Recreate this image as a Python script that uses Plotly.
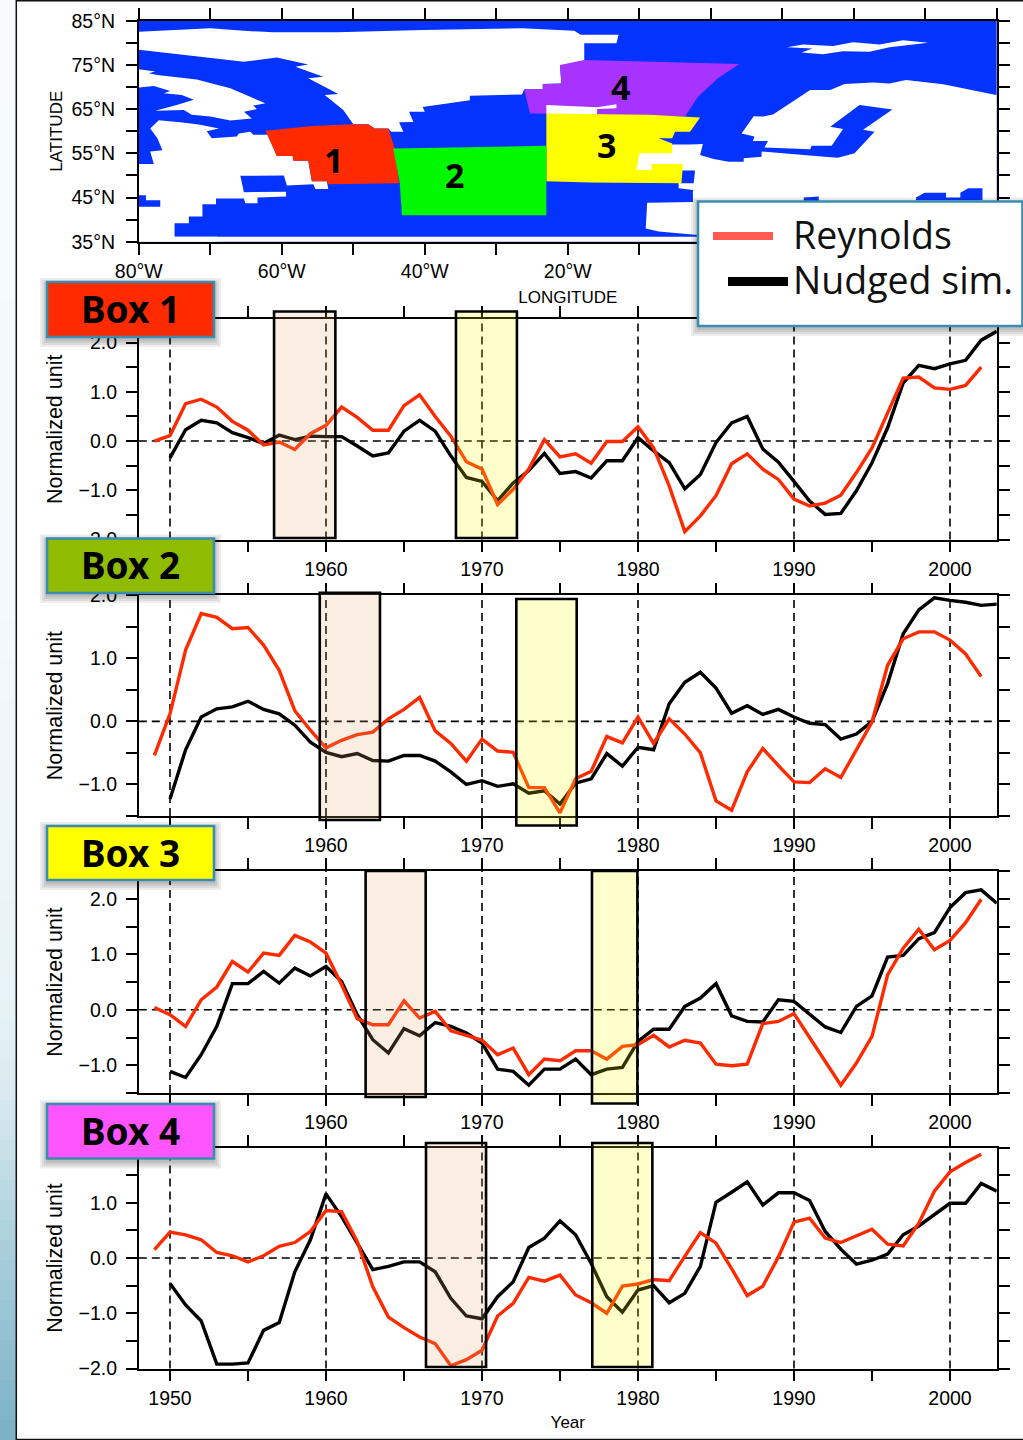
import plotly.graph_objects as go

W, H = 1023, 1440

# ---------- time series data (normalized units) ----------
YEARS_REY = list(range(1949, 2003))
YEARS_NUD = list(range(1950, 2004))

BOX1_REY = [0.0,0.11,0.76,0.85,0.69,0.4,0.22,-0.08,-0.02,-0.17,0.15,0.32,0.69,0.48,0.22,0.22,0.72,0.94,0.5,0.1,-0.42,-0.57,-1.29,-0.98,-0.57,0.03,-0.32,-0.26,-0.45,-0.01,-0.01,0.29,-0.14,-0.91,-1.84,-1.52,-1.11,-0.46,-0.26,-0.57,-0.78,-1.18,-1.32,-1.26,-1.1,-0.64,-0.14,0.57,1.28,1.3,1.08,1.05,1.13,1.5]
BOX1_NUD = [-0.34,0.23,0.42,0.37,0.17,0.07,-0.05,0.12,0.03,0.1,0.09,0.09,-0.1,-0.3,-0.24,0.2,0.42,0.2,-0.3,-0.74,-0.82,-1.21,-0.85,-0.6,-0.25,-0.66,-0.62,-0.75,-0.4,-0.4,0.07,-0.2,-0.44,-0.97,-0.68,-0.03,0.37,0.5,-0.16,-0.43,-0.82,-1.22,-1.49,-1.47,-1.01,-0.44,0.27,1.18,1.54,1.47,1.57,1.64,2.05,2.23]

BOX2_REY = [-0.54,0.12,1.13,1.71,1.65,1.47,1.49,1.21,0.81,0.17,-0.14,-0.42,-0.3,-0.21,-0.17,0.04,0.19,0.38,-0.15,-0.35,-0.63,-0.28,-0.47,-0.49,-1.05,-1.05,-1.45,-0.91,-0.79,-0.24,-0.34,0.07,-0.35,0.04,-0.2,-0.5,-1.26,-1.41,-0.8,-0.43,-0.7,-0.96,-0.97,-0.75,-0.89,-0.46,-0.01,0.89,1.31,1.42,1.42,1.29,1.07,0.71]
BOX2_NUD = [-1.23,-0.45,0.07,0.2,0.23,0.32,0.19,0.12,-0.06,-0.33,-0.49,-0.56,-0.51,-0.62,-0.63,-0.54,-0.54,-0.63,-0.8,-1.0,-0.94,-1.03,-0.99,-1.14,-1.1,-1.31,-0.98,-0.91,-0.51,-0.71,-0.41,-0.45,0.28,0.62,0.78,0.53,0.13,0.25,0.11,0.19,0.07,-0.03,-0.05,-0.28,-0.2,0.0,0.6,1.39,1.77,1.96,1.92,1.89,1.84,1.86]

BOX3_REY = [0.04,-0.09,-0.3,0.18,0.41,0.87,0.68,1.02,0.98,1.34,1.22,1.02,0.45,-0.16,-0.27,-0.27,0.16,-0.15,-0.03,-0.38,-0.46,-0.55,-0.81,-0.69,-1.17,-0.89,-0.92,-0.74,-0.74,-0.89,-0.66,-0.63,-0.46,-0.67,-0.55,-0.6,-0.98,-1.01,-0.98,-0.25,-0.21,-0.07,-0.5,-0.93,-1.36,-0.96,-0.48,0.63,1.11,1.45,1.08,1.25,1.57,1.99]
BOX3_NUD = [-1.11,-1.22,-0.81,-0.3,0.47,0.47,0.69,0.48,0.75,0.61,0.78,0.51,-0.09,-0.54,-0.78,-0.34,-0.47,-0.23,-0.3,-0.42,-0.6,-1.07,-1.11,-1.36,-1.07,-1.07,-0.89,-1.17,-1.07,-1.04,-0.57,-0.35,-0.35,0.06,0.21,0.47,-0.11,-0.21,-0.22,0.18,0.15,-0.08,-0.31,-0.41,0.06,0.25,0.95,0.98,1.28,1.39,1.84,2.11,2.16,1.92]

BOX4_REY = [0.15,0.47,0.42,0.33,0.1,0.04,-0.07,0.04,0.21,0.28,0.48,0.86,0.84,0.3,-0.52,-1.07,-1.26,-1.43,-1.55,-1.95,-1.84,-1.67,-1.05,-0.82,-0.35,-0.42,-0.31,-0.67,-0.81,-1.0,-0.51,-0.47,-0.39,-0.41,0.03,0.46,0.27,-0.19,-0.68,-0.51,0.02,0.65,0.72,0.36,0.28,0.4,0.52,0.25,0.22,0.63,1.21,1.56,1.73,1.88]
BOX4_NUD = [-0.46,-0.85,-1.14,-1.92,-1.92,-1.9,-1.31,-1.17,-0.25,0.33,1.16,0.75,0.27,-0.21,-0.15,-0.07,-0.07,-0.25,-0.73,-1.05,-1.1,-0.7,-0.43,0.19,0.36,0.67,0.42,-0.1,-0.7,-0.98,-0.58,-0.5,-0.81,-0.64,-0.15,1.01,1.19,1.38,0.96,1.18,1.18,1.04,0.48,0.16,-0.11,-0.04,0.07,0.42,0.58,0.78,0.99,0.99,1.35,1.21]

# highlighted periods (start year, end year)
BOX1_BANDS = [(1956.67, 1960.6), (1968.33, 1972.24)]
BOX2_BANDS = [(1959.6, 1963.46), (1972.2, 1976.07)]
BOX3_BANDS = [(1962.54, 1966.39), (1977.05, 1979.96)]
BOX4_BANDS = [(1966.41, 1970.26), (1977.07, 1980.92)]

# ---------- map polygons (lon, lat) ----------
OCEAN = [(-80,85),(40,85),(40,35),(-80,35)]
SOUTH_STRIP = [(-80,36.1),(40,36.1),(40,35),(-80,35)]
GREENLAND = [(-80,82.5),(-70,83.3),(-65.3,82.7),(-61.2,82.4),(-52.3,82.4),(-40.2,82.9),(-26.4,83.3),(-19.1,82.7),(-18.2,81.8),(-12.9,81.8),(-13.2,79.9),(-17.7,79.9),(-17.7,75),(-21.1,75),(-20.9,70.8),(-23.5,70.7),(-23.5,69.5),(-26.1,69.5),(-26.4,68.3),(-33.7,68),(-33.7,67),(-39.3,65.8),(-40.3,65.5),(-40,64.4),(-42.2,64.4),(-41.6,62.1),(-43.6,62),(-43,59.9),(-44.7,59.9),(-45.1,60.6),(-47,60.6),(-47.9,61.6),(-50,61.6),(-51.4,64.8),(-54,68.2),(-52.1,68.4),(-56.3,72),(-54.2,72.3),(-58.1,74.6),(-56.3,75.1),(-60.7,76.7),(-65.3,75.7),(-80,78.4)]
BAFFIN = [(-80,74),(-77.7,73.5),(-78.6,73.1),(-77.4,72.7),(-71.9,71.7),(-67.2,69.7),(-62.3,66.3),(-64,65.8),(-63.5,65),(-65.3,64.4),(-64.2,62.9),(-67.2,62.4),(-70,63.3),(-72.6,63.7),(-73.7,64.8),(-77.7,64.6),(-74.7,65.9),(-72.3,67.1),(-74,68.2),(-76.5,68.6),(-75.6,69.1),(-77.9,70.2),(-80,69.9)]
NORTH_AMERICA = [(-80,35),(-80,52.6),(-77.9,52.6),(-78.4,55.4),(-76.7,55.7),(-77.4,58.4),(-78.4,60.6),(-77.2,62.5),(-74.2,62),(-71.6,61.5),(-68.8,60.6),(-70.5,60),(-69.8,58.4),(-66.3,58.8),(-66,59.5),(-64.4,59.9),(-64,59.2),(-61.9,59.2),(-60.7,54.4),(-58.4,54.4),(-58.4,53.3),(-56.3,53.3),(-55.8,48.7),(-53.7,48.7),(-53.5,46.9),(-55.3,46.9),(-55.6,48),(-59.3,47.7),(-59.7,50),(-65.8,49.9),(-65.3,46.2),(-59.4,46.3),(-59.4,45.2),(-63.4,45),(-63.4,43.7),(-65.1,43.7),(-65.3,44.8),(-69.2,44.8),(-69.2,43.5),(-71.1,43.5),(-71.1,40.7),(-73,40.7),(-73,39.2),(-75,39.2),(-75,36.1),(-69,36.1),(-69,35)]
GREAT_LAKES = [(-80,45.5),(-79,45.5),(-79,44.4),(-77,44.4),(-77,42.9),(-80,42.9)]
EUROPE = [(39.9,68.2),(32.5,70.6),(27.3,71.6),(25,70.8),(22.7,71),(18.7,70.7),(16.7,69.3),(13.9,69.3),(8.7,63.8),(7.3,63.3),(6,63.4),(4.3,59.5),(6.1,58.8),(5.9,57.8),(8,57.8),(7.5,56.3),(13.9,55.9),(14.1,56.7),(16.9,56.7),(18.5,60.5),(16.7,61),(20.8,65.9),(25.4,64.9),(21.3,60.3),(22.9,59.9),(20.1,55),(17.8,54),(15.9,54.2),(10.1,55),(7.1,55.4),(7.1,54.2),(4.6,53.9),(4.6,53.1),(2.5,53.1),(0.4,53.7),(-1.5,54.6),(-1.1,57.1),(-2.9,57),(-11,57),(-11,49),(-4.5,49),(-4.5,47.1),(-2.5,46.7),(-2.5,44),(-8.9,43.8),(-9.1,38),(-7.3,37.3),(-1.8,36.5),(40,36.5),(40,68.2)]
SVALBARD = [(10.7,79),(12.9,79.6),(17.1,79.3),(19.9,80.1),(23.6,79.6),(26.9,80.6),(30.4,80),(25,79),(22.2,78),(18.5,78.1),(15.7,77.4),(12.7,77.8),(14.2,78.7)]
BISCAY = [(-4.3,51.1),(-2.2,51.1),(-2.4,48.2),(-4.3,48.2)]
MED_A = [(13,45),(15.1,45.2),(15.1,44.2),(13,44.2)]
MED_B = [(28.7,45),(29.9,46.1),(32.9,46.1),(32.9,45),(34.9,45),(34.9,46.1),(36,47.1),(38,47.1),(38,44.4),(28.7,44.4)]
ICELAND = [(-23,65.9),(-15.9,65.4),(-13.2,66.1),(-13.2,65.2),(-15.9,65),(-15.9,63.9),(-23,63.9)]
REGION1 = [(-62.3,60.1),(-55.8,61.2),(-50,61.6),(-47.9,61.6),(-47,60.6),(-45.1,60.6),(-44.2,56.1),(-43.6,48.2),(-53.5,48),(-53.7,48.7),(-55.8,48.7),(-56.3,53.3),(-58.4,53.3),(-58.5,54.4),(-60.7,54.4)]
REGION2 = [(-44.4,56.1),(-23,56.7),(-23,41),(-43.2,41),(-43.5,48.2)]
REGION3 = [(-23,64),(-15.9,63.9),(-8.6,63.7),(-1.5,63.1),(-2.9,59.9),(-5,59.9),(-5.4,58.4),(-7.3,58.4),(-5.4,57.2),(-5.4,55),(-10,55),(-10.4,51.2),(-8.3,51.2),(-8.3,52.6),(-3.9,52.6),(-4.1,48.2),(-16.8,48.4),(-23,48.7)]
REGION4 = [(-21.1,75),(-17.7,76.1),(-8.2,75.7),(4,75.2),(1,72),(-1.8,67.8),(-3.6,63.3),(-15.9,63.9),(-25.3,64),(-26.1,69.5),(-23.5,69.5),(-23.5,70.7),(-20.9,70.8)]
REGION_LABELS = [("1",-52.8,53.4),("2",-35.8,50),("3",-14.6,56.9),("4",-12.7,70)]

LON_TICKS = list(range(-80, 41, 10))
LON_TEXT = ["80°W","","60°W","","40°W","","20°W","","","","","",""]
LAT_TICKS = list(range(35, 86, 5))
LAT_TEXT = ["35°N","","45°N","","55°N","","65°N","","75°N","","85°N"]

YEAR_TICKS = list(range(1950, 2001, 5))
YEAR_TEXT = ["1950","","1960","","1970","","1980","","1990","","2000"]

# ---------- colours ----------
OCEAN_BLUE = "#0433FF"
LINE_RED = "#FF2A00"
C_R1, C_R2, C_R3, C_R4 = "#FF2A00", "#00F900", "#FFFF00", "#A833FF"
BEIGE = "rgba(232,170,115,0.2)"
YELLOW = "rgba(255,255,0,0.2)"
TEAL = "#3A8DAE"
FONT = "Liberation Sans"

def yp(py):
    return 1 - py / H
def xp(px):
    return px / W

X0, X1 = 138.8, 996.8
dom_x = [xp(X0), xp(X1)]

fig = go.Figure()

def poly(points, color):
    fig.add_trace(go.Scatter(x=[p[0] for p in points], y=[p[1] for p in points],
                             mode="lines", fill="toself", fillcolor=color,
                             line=dict(width=0, color=color), hoverinfo="skip",
                             showlegend=False, xaxis="x", yaxis="y"))

for pts, col in [(OCEAN, OCEAN_BLUE), (SOUTH_STRIP, "white"), (GREENLAND, "white"), (BAFFIN, "white"),
                 (NORTH_AMERICA, "white"), (GREAT_LAKES, OCEAN_BLUE), (EUROPE, "white"), (SVALBARD, "white"),
                 (BISCAY, OCEAN_BLUE), (MED_A, OCEAN_BLUE), (MED_B, OCEAN_BLUE),
                 (REGION4, C_R4), (ICELAND, "white"), (REGION3, C_R3), (REGION1, C_R1), (REGION2, C_R2)]:
    poly(pts, col)

PANELS = [
    dict(rey=BOX1_REY, nud=BOX1_NUD, bands=BOX1_BANDS, rng=[-2, 2.48], top=319, bottom=539.5,
         tv=[-2,-1.5,-1,-0.5,0,0.5,1,1.5,2], tt=["−2.0","","−1.0","","0.0","","1.0","","2.0"], bt=311.5, bb=538),
    dict(rey=BOX2_REY, nud=BOX2_NUD, bands=BOX2_BANDS, rng=[-1.5, 2.0], top=595.3, bottom=816,
         tv=[-1.5,-1,-0.5,0,0.5,1,1.5,2], tt=["","−1.0","","0.0","","1.0","","2.0"], bt=[592.7,599], bb=[820,825.5]),
    dict(rey=BOX3_REY, nud=BOX3_NUD, bands=BOX3_BANDS, rng=[-1.5, 2.5], top=871, bottom=1093,
         tv=[-1.5,-1,-0.5,0,0.5,1,1.5,2,2.5], tt=["","−1.0","","0.0","","1.0","","2.0",""], bt=871, bb=[1097,1103.5]),
    dict(rey=BOX4_REY, nud=BOX4_NUD, bands=BOX4_BANDS, rng=[-2, 2.0], top=1147.5, bottom=1368.5,
         tv=[-2,-1.5,-1,-0.5,0,0.5,1,1.5,2], tt=["−2.0","","−1.0","","0.0","","1.0","","2.0"], bt=1143, bb=1367),
]

common_ax = dict(showline=True, linecolor="black", linewidth=1.6, mirror="ticks", ticks="outside",
                 ticklen=11, tickwidth=1.6, tickcolor="black", showgrid=False, zeroline=False, automargin=False,
                 tickfont=dict(family=FONT, size=19.5, color="black"))

layout_axes = {}
layout_axes["xaxis"] = dict(common_ax, domain=dom_x, range=[-80, 40], anchor="y", tickmode="array",
                            tickvals=LON_TICKS, ticktext=LON_TEXT,
                            title=dict(text="LONGITUDE", font=dict(family=FONT, size=17, color="black"), standoff=10))
layout_axes["yaxis"] = dict(common_ax, domain=[yp(241.7), yp(20.7)], range=[35, 85], anchor="x", tickmode="array",
                            tickvals=LAT_TICKS, ticktext=LAT_TEXT, ticklabelstandoff=7,
                            title=dict(text="LATITUDE", font=dict(family=FONT, size=17, color="black"), standoff=5))

shapes = []
for i, p in enumerate(PANELS):
    n = i + 2
    xk, yk = f"xaxis{n}", f"yaxis{n}"
    xa, ya = f"x{n}", f"y{n}"
    layout_axes[xk] = dict(common_ax, domain=dom_x, range=[1948, 2003], anchor=ya, tickmode="array",
                           tickvals=YEAR_TICKS, ticktext=YEAR_TEXT)
    layout_axes[yk] = dict(common_ax, domain=[yp(p["bottom"]), yp(p["top"])], range=p["rng"], anchor=xa,
                           tickmode="array", tickvals=p["tv"], ticktext=p["tt"], ticklabelstandoff=5,
                           title=dict(text="Normalized unit", font=dict(family=FONT, size=21.5, color="black"), standoff=10))
    if i == 3:
        layout_axes[xk]["title"] = dict(text="Year", font=dict(family=FONT, size=17, color="black"), standoff=8)
    # dashed reference lines
    for yr in YEAR_TICKS[::2]:
        shapes.append(dict(type="line", xref=xa, yref=f"{ya} domain", x0=yr, x1=yr, y0=0, y1=1, layer="below",
                           line=dict(color="black", width=1.6, dash="8px,5px")))
    shapes.append(dict(type="line", xref=f"{xa} domain", yref=ya, x0=0, x1=1, y0=0, y1=0, layer="below",
                       line=dict(color="black", width=1.6, dash="8px,5px")))
    fig.add_trace(go.Scatter(x=YEARS_NUD, y=p["nud"], mode="lines", name="Nudged sim.", showlegend=False,
                             line=dict(color="black", width=3.4), xaxis=xa, yaxis=ya))
    fig.add_trace(go.Scatter(x=YEARS_REY, y=p["rey"], mode="lines", name="Reynolds", showlegend=False,
                             line=dict(color=LINE_RED, width=3.4), xaxis=xa, yaxis=ya))
    # highlighted periods
    for j, (b, col) in enumerate(zip(p["bands"], [BEIGE, YELLOW])):
        t = p["bt"][j] if isinstance(p["bt"], list) else p["bt"]
        bt = p["bb"][j] if isinstance(p["bb"], list) else p["bb"]
        shapes.append(dict(type="rect", xref=xa, yref="paper", x0=b[0], x1=b[1], y0=yp(bt), y1=yp(t), layer="above",
                           fillcolor=col, line=dict(color="black", width=2.6)))

def paper_rect(x0, y0, x1, y1, fill, line=None, width=0):
    s = dict(type="rect", xref="paper", yref="paper", x0=xp(x0), x1=xp(x1), y0=yp(y1), y1=yp(y0),
             layer="above", fillcolor=fill)
    s["line"] = dict(color=line, width=width) if line else dict(width=0)
    return s

def card(x0, y0, x1, y1, fill):
    for e in (7, 5, 3, 1):
        shapes.append(paper_rect(x0 - e, y0 - e + 3, x1 + e, y1 + e + 3, "rgba(0,0,0,0.07)"))
    shapes.append(paper_rect(x0, y0, x1, y1, fill, TEAL, 2.6))

CARDS = [("Box 1", 47, 282, 214, 337, "#FF2A00"), ("Box 2", 47, 538.5, 214, 593, "#8FBC00"),
         ("Box 3", 47, 826, 214, 880, "#FFFF00"), ("Box 4", 47, 1104, 214, 1158.5, "#FF55FF")]
annotations = []
for name, x0, y0, x1, y1, c in CARDS:
    card(x0, y0, x1, y1, c)
    annotations.append(dict(text=name, xref="paper", yref="paper", x=xp((x0 + x1) / 2), y=yp((y0 + y1) / 2 - 1),
                            xanchor="center", yanchor="middle", showarrow=False,
                            font=dict(family="Noto Sans", size=37, color="black", weight="bold")))

# legend panel
card(698, 201.5, 1022.5, 326, "white")
shapes.append(paper_rect(713, 232, 773, 240, "#FF5A50"))
shapes.append(paper_rect(728, 277, 788, 286, "black"))
for txt, py in [("Reynolds", 235), ("Nudged sim.", 280)]:
    annotations.append(dict(text=txt, xref="paper", yref="paper", x=xp(791), y=yp(py), xanchor="left",
                            yanchor="middle", showarrow=False,
                            font=dict(family="Open Sans", size=37.5, color="#111111")))

for txt, lo, la in REGION_LABELS:
    annotations.append(dict(text=txt, xref="x", yref="y", x=lo, y=la, showarrow=False,
                            font=dict(family="Noto Sans", size=34, color="black", weight="bold")))

# page decoration: left strip with vertical gradient, frame lines
STRIP_Y = [0, 600, 1000, 1100, 1250, 1440]
STRIP_C = [(246,250,253), (243,249,252), (232,243,247), (216,233,239), (168,206,219), (122,176,197)]
N_STEPS = 72
under = []
for k in range(N_STEPS):
    y0 = H * k / N_STEPS
    y1 = H * (k + 1) / N_STEPS
    m = (y0 + y1) / 2
    for a in range(len(STRIP_Y) - 1):
        if STRIP_Y[a] <= m <= STRIP_Y[a + 1]:
            t = (m - STRIP_Y[a]) / (STRIP_Y[a + 1] - STRIP_Y[a])
            rgb = [round(STRIP_C[a][c] + t * (STRIP_C[a + 1][c] - STRIP_C[a][c])) for c in range(3)]
            break
    under.append(dict(type="rect", xref="paper", yref="paper", x0=0, x1=xp(16), y0=yp(y1), y1=yp(y0), layer="below",
                      fillcolor=f"rgb({rgb[0]},{rgb[1]},{rgb[2]})", line=dict(width=0)))
frame = [
    dict(type="line", xref="paper", yref="paper", x0=xp(16.3), x1=xp(16.3), y0=0, y1=1, layer="above", line=dict(color="#111", width=1.5)),
    dict(type="line", xref="paper", yref="paper", x0=xp(16), x1=1, y0=yp(0.7), y1=yp(0.7), layer="above", line=dict(color="#111", width=1.6)),
    dict(type="line", xref="paper", yref="paper", x0=xp(16), x1=1, y0=yp(1439.3), y1=yp(1439.3), layer="above", line=dict(color="#111", width=1.2)),
]

fig.update_layout(width=W, height=H, margin=dict(l=0, r=0, t=0, b=0, autoexpand=False), autosize=False,
                  paper_bgcolor="white", plot_bgcolor="white", showlegend=False,
                  shapes=under + shapes + frame, annotations=annotations, **layout_axes)

fig.write_html("out.html", config=dict(displayModeBar=False, responsive=False),
               post_script="document.body.style.margin='0';document.body.style.overflow='hidden';")
